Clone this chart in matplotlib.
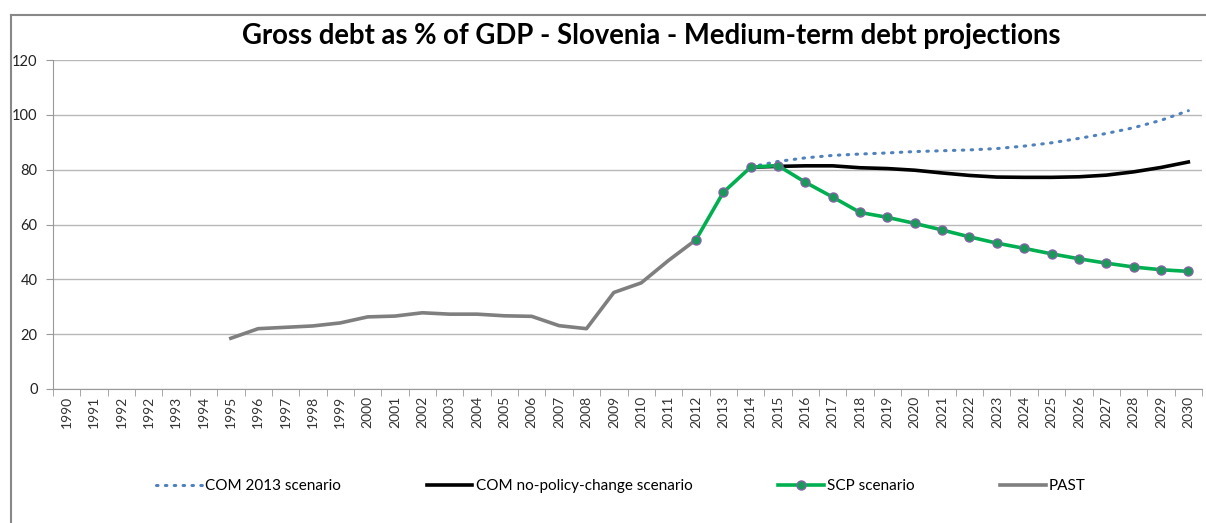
import numpy as np
import matplotlib
matplotlib.use("Agg")
import matplotlib.pyplot as plt
from matplotlib.lines import Line2D

plt.rcParams['font.family'] = ['Lato', 'DejaVu Sans']

# category axis, as in the original sheet (1992 appears twice)
cats = ['1990', '1991', '1992', '1992'] + [str(y) for y in range(1993, 2031)]

past_years = [str(y) for y in range(1995, 2013)]
past_vals = [18.5, 22.0, 22.5, 23.0, 24.1, 26.3, 26.6, 27.8, 27.3, 27.3,
             26.7, 26.5, 23.1, 22.0, 35.2, 38.7, 46.9, 54.4]

scp_years = [str(y) for y in range(2012, 2031)]
scp_vals = [54.4, 71.7, 80.9, 81.5, 75.4, 70.0, 64.4, 62.6, 60.4, 58.0,
            55.5, 53.2, 51.3, 49.3, 47.5, 45.9, 44.5, 43.5, 42.9]

com_years = [str(y) for y in range(2014, 2031)]
com2013_vals = [81.0, 83.0, 84.3, 85.2, 85.7, 86.1, 86.6, 86.9, 87.2, 87.7,
                88.6, 89.8, 91.4, 93.2, 95.3, 98.0, 101.5]
nopol_vals = [80.9, 81.2, 81.4, 81.4, 80.7, 80.4, 79.8, 78.8, 77.9, 77.3,
              77.2, 77.2, 77.4, 78.0, 79.2, 80.8, 82.8]


def pos(labels):
    return [cats.index(l) for l in labels]


fig = plt.figure(figsize=(12.06, 5.23), dpi=100)
ax = fig.add_axes([53 / 1206, 1 - 389 / 523, 1149 / 1206, 329 / 523])

ax.plot(pos(com_years), com2013_vals, color='#4f81bd', lw=2.2, ls=(0, (0.5, 2.4)),
        dash_capstyle='round', label='COM 2013 scenario', zorder=3)
ax.plot(pos(com_years), nopol_vals, color='black', lw=2.6,
        label='COM no-policy-change scenario', zorder=3)
ax.plot(pos(scp_years), scp_vals, color='#00b050', lw=2.6, marker='o', ms=6.5,
        mfc='#1a9a5a', mec='#8064a2', mew=1.0, label='SCP scenario', zorder=4)
ax.plot(pos(past_years), past_vals, color='#7f7f7f', lw=2.6, label='PAST', zorder=2)

ax.set_xlim(-0.5, len(cats) - 0.5)
ax.set_ylim(0, 120)
ax.set_yticks(range(0, 121, 20))
ax.yaxis.grid(True, color='#b8b8b8', lw=1.0)
ax.set_axisbelow(True)

ax.set_xticks(np.arange(len(cats)))
ax.set_xticklabels(cats, rotation=90, fontsize=10, color='#333333')
ax.set_xticks(np.arange(len(cats) + 1) - 0.5, minor=True)
ax.tick_params(axis='x', which='major', length=0, pad=5)
ax.tick_params(axis='x', which='minor', length=5, color='#999999')
ax.tick_params(axis='y', length=5, color='#999999', labelsize=10.5, pad=6,
               labelcolor='#222222')

for s in ['top', 'right']:
    ax.spines[s].set_visible(False)
ax.spines['left'].set_color('#999999')
ax.spines['bottom'].set_color('#999999')

fig.text(651 / 1206, 1 - 36 / 523, 'Gross debt as % of GDP - Slovenia - Medium-term debt projections',
         ha='center', va='center', fontsize=19.8, fontweight='bold')

fig.legend(loc='center', bbox_to_anchor=(621 / 1206, 1 - 486 / 523), ncol=4,
           frameon=False, fontsize=11, handlelength=3.0, handletextpad=0.2,
           columnspacing=5.6)

# chart area border (left and top edges visible)
fig.add_artist(Line2D([11 / 1206, 11 / 1206], [0, 1 - 15 / 523],
                      transform=fig.transFigure, color='#888888', lw=1.5))
fig.add_artist(Line2D([11 / 1206, 1], [1 - 15 / 523, 1 - 15 / 523],
                      transform=fig.transFigure, color='#888888', lw=1.5))

fig.savefig('out.png', dpi=100)
